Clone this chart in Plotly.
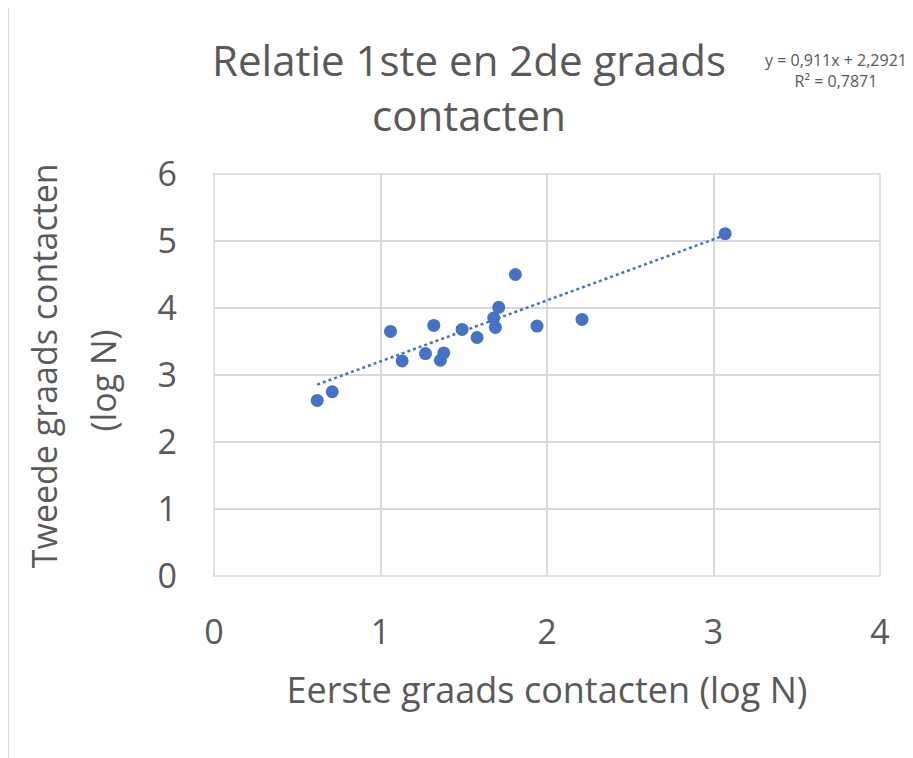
import plotly.graph_objects as go

# Scatter data (log N)
eerste_graads = [0.62, 0.71, 1.06, 1.13, 1.27, 1.32, 1.36, 1.38, 1.49, 1.58,
                 1.68, 1.69, 1.71, 1.81, 1.94, 2.21, 3.07]
tweede_graads = [2.62, 2.75, 3.65, 3.21, 3.32, 3.74, 3.22, 3.33, 3.68, 3.56,
                 3.85, 3.71, 4.01, 4.50, 3.73, 3.83, 5.11]

# Linear trendline as reported on the chart
slope = 0.911
intercept = 2.2921
r_squared = 0.7871

x_ticks = [0, 1, 2, 3, 4]
y_ticks = [0, 1, 2, 3, 4, 5, 6]

blue = "#4472C4"
grey_text = "#595959"
grid = "#D9D9D9"
font_family = "Open Sans"

x_trend = [min(eerste_graads), max(eerste_graads)]
y_trend = [slope * x + intercept for x in x_trend]


def fmt(v):
    return f"{v}".replace(".", ",")


fig = go.Figure()

fig.add_trace(go.Scatter(
    x=x_trend,
    y=y_trend,
    mode="lines",
    line=dict(color=blue, width=2.5, dash="dot"),
    hoverinfo="skip",
    showlegend=False
))

fig.add_trace(go.Scatter(
    x=eerste_graads,
    y=tweede_graads,
    mode="markers",
    marker=dict(color=blue, size=13),
    showlegend=False
))

# trendline equation, top right
fig.add_annotation(
    x=0.934, y=1.257,
    xref="paper", yref="paper",
    xanchor="center", yanchor="middle",
    text=f"y = {fmt(slope)}x + {fmt(intercept)}<br>R² = {fmt(r_squared)}",
    showarrow=False,
    font=dict(size=16, color=grey_text, family=font_family),
)

# y axis title on two lines (wider line spacing than plotly's default)
fig.add_annotation(
    x=-0.254, y=0.524, xref="paper", yref="paper",
    xanchor="center", yanchor="middle",
    text="Tweede graads contacten", textangle=-90, showarrow=False,
    font=dict(size=34, color=grey_text, family=font_family),
)
fig.add_annotation(
    x=-0.167, y=0.486, xref="paper", yref="paper",
    xanchor="center", yanchor="middle",
    text="(log N)", textangle=-90, showarrow=False,
    font=dict(size=34, color=grey_text, family=font_family),
)

# outer chart border
fig.add_shape(
    type="rect", xref="paper", yref="paper",
    x0=-0.309, x1=1.2, y0=-0.5, y1=1.432,
    line=dict(color=grid, width=1.5),
    layer="below"
)
# plot area edge
fig.add_shape(type="rect", xref="paper", yref="paper", x0=0, x1=1, y0=0, y1=1,
              line=dict(color=grid, width=1.5), layer="below")

fig.update_layout(
    title=dict(
        text="Relatie 1ste en 2de graads<br>contacten",
        x=461 / 913, xanchor="center",
        y=1 - 68 / 758, yanchor="middle",
        font=dict(size=42, color=grey_text, family=font_family)
    ),
    width=913,
    height=758,
    margin=dict(l=206, r=41, t=166, b=190),
    plot_bgcolor="white",
    paper_bgcolor="white",
    font=dict(family=font_family, color=grey_text),
)

fig.update_xaxes(
    range=[0, 4],
    tickvals=x_ticks,
    showgrid=True, gridcolor=grid, gridwidth=1.5,
    zeroline=False, showline=False,
    tickfont=dict(size=34, color=grey_text),
    ticklabelstandoff=33,
    title=dict(text="Eerste graads contacten (log N)",
               font=dict(size=36, color=grey_text), standoff=24),
)
fig.update_yaxes(
    range=[0, 6],
    tickvals=y_ticks,
    showgrid=True, gridcolor=grid, gridwidth=1.5,
    zeroline=False, showline=False,
    tickfont=dict(size=34, color=grey_text),
    ticklabelstandoff=36,
)

fig.write_html("out.html")
